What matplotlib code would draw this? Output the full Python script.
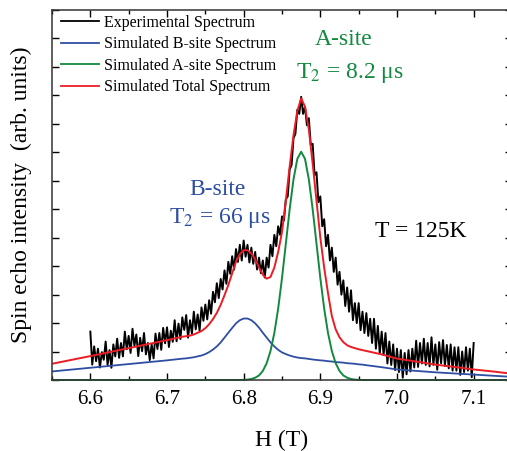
import numpy as np
import matplotlib
matplotlib.use('Agg')
import matplotlib.pyplot as plt
from matplotlib.ticker import MultipleLocator, NullFormatter

plt.rcParams['font.family'] = ['Liberation Serif', 'DejaVu Serif']
plt.rcParams['mathtext.fontset'] = 'stix'

# experimental trace, H from 6.60 to 7.10 T in 0.0025 T steps
h_exp = np.linspace(6.60, 7.10, 201)
exp_spec = [1.70, 0.54, 1.18, 0.66, 1.10, 0.44, 0.98, 0.71, 1.35, 0.53,
            1.05, 0.43, 1.25, 0.83, 1.45, 0.78, 1.30, 0.83, 1.70, 1.08,
            1.55, 0.95, 1.80, 1.20, 1.60, 0.84, 1.48, 1.01, 1.65, 0.90,
            1.30, 0.70, 1.25, 0.76, 1.63, 1.09, 1.65, 1.06, 1.83, 1.29,
            1.85, 1.16, 1.73, 1.34, 2.10, 1.36, 1.98, 1.44, 2.20, 1.76,
            2.28, 1.49, 2.10, 1.63, 2.40, 1.78, 2.30, 1.73, 2.55, 2.08,
            2.65, 2.13, 2.80, 2.33, 3.10, 2.73, 3.40, 2.88, 3.55, 3.18,
            3.85, 3.38, 4.15, 3.73, 4.35, 3.88, 4.60, 4.15, 4.75, 4.20,
            4.90, 4.33, 4.75, 4.13, 4.65, 4.08, 4.50, 3.88, 4.30, 3.75,
            4.20, 3.60, 4.30, 3.95, 4.75, 4.35, 5.10, 4.70, 5.40, 5.10,
            5.75, 5.60, 6.35, 6.45, 7.40, 7.55, 8.50, 8.65, 9.50, 9.35,
            9.95, 9.35, 9.60, 8.95, 9.20, 8.25, 8.30, 7.20, 7.30, 6.25,
            6.45, 5.40, 5.65, 4.70, 5.10, 4.20, 4.65, 3.80, 4.30, 3.35,
            3.80, 3.00, 3.50, 2.60, 3.25, 2.40, 3.15, 2.10, 2.70, 2.00,
            2.70, 1.75, 2.40, 1.65, 2.35, 1.55, 2.15, 1.30, 2.15, 1.10,
            1.90, 0.93, 1.70, 0.88, 1.65, 0.58, 1.35, 0.53, 1.25, 0.35,
            1.10, 0.28, 1.05, 0.08, 0.95, 0.20, 1.05, 0.30, 1.10, 0.44,
            1.38, 0.46, 1.30, 0.58, 1.45, 0.53, 1.30, 0.48, 1.50, 0.53,
            1.25, 0.36, 1.33, 0.59, 1.40, 0.49, 1.23, 0.41, 1.25, 0.33,
            1.15, 0.33, 1.15, 0.18, 1.00, 0.28, 1.15, 0.33, 1.10, 0.10,
            1.30]

# simulated curves share one H grid
h_fit = np.concatenate([[6.55, 6.60, 6.65, 6.70],
                        np.linspace(6.72, 6.96, 49),
                        [6.98, 7.00, 7.025, 7.05, 7.075, 7.10, 7.125, 7.15]])
b_site = [0.30, 0.43, 0.56, 0.69,
          0.75, 0.76, 0.78, 0.80, 0.83, 0.86, 0.91, 0.98, 1.07, 1.18,
          1.32, 1.49, 1.66, 1.83, 1.99, 2.10, 2.16, 2.16, 2.10, 1.99,
          1.84, 1.66, 1.49, 1.32, 1.18, 1.06, 0.97, 0.91, 0.86, 0.82,
          0.79, 0.77, 0.76, 0.74, 0.72, 0.705, 0.69, 0.68, 0.66, 0.65,
          0.63, 0.62, 0.61, 0.59, 0.58, 0.57, 0.55, 0.54, 0.52,
          0.45, 0.37, 0.32, 0.27, 0.23, 0.19, 0.15, 0.11]
a_site = [0, 0, 0, 0,
          0, 0, 0, 0, 0, 0, 0, 0, 0, 0,
          0, 0, 0, 0, 0, 0, 0.006, 0.015, 0.035, 0.08,
          0.16, 0.32, 0.59, 1.02, 1.65, 2.51, 3.58, 4.79, 6.00, 7.05,
          7.77, 8.02, 7.77, 7.05, 6.00, 4.79, 3.58, 2.51, 1.65, 1.02,
          0.59, 0.32, 0.16, 0.08, 0.035, 0.015, 0.006, 0, 0,
          0, 0, 0, 0, 0, 0, 0, 0]
total = [0.57, 0.84, 1.12, 1.40,
         1.52, 1.54, 1.56, 1.60, 1.66, 1.72, 1.82, 1.96, 2.14, 2.36,
         2.64, 2.98, 3.34, 3.75, 4.15, 4.42, 4.56, 4.56, 4.45, 4.24,
         3.96, 3.70, 3.56, 3.62, 3.95, 4.50, 5.20, 6.30, 7.50, 8.60,
         9.45, 9.90, 9.60, 8.80, 7.60, 6.30, 5.00, 3.95, 3.05, 2.25,
         1.78, 1.50, 1.33, 1.22, 1.16, 1.12, 1.08, 1.05, 1.02,
         0.90, 0.75, 0.65, 0.54, 0.46, 0.37, 0.30, 0.22]

blue = '#2e4ea3'
green = '#13893f'
red = '#ec1c24'

fig = plt.figure(figsize=(5.07, 4.51), dpi=100)
ax = fig.add_axes([52/507, 71/451, 460/507, 370/451])

ax.plot(h_exp, exp_spec, color='black', lw=1.4, label='Experimental Spectrum')
ax.plot(h_fit, b_site, color=blue, lw=1.3, label='Simulated B-site Spectrum')
ax.plot(h_fit, a_site, color=green, lw=1.4, label='Simulated A-site Spectrum', clip_on=False)
ax.plot(h_fit, total, color=red, lw=1.4, label='Simulated Total Spectrum')

ax.set_xlim(6.55, 7.15)
ax.set_ylim(0, 13)
ax.xaxis.set_major_locator(MultipleLocator(0.1))
ax.xaxis.set_minor_locator(MultipleLocator(0.05))
ax.yaxis.set_major_locator(MultipleLocator(1))
ax.yaxis.set_major_formatter(NullFormatter())
ax.tick_params(axis='both', which='both', direction='in', top=True, right=True, width=1.0)
ax.tick_params(axis='x', which='major', length=5, labelsize=15, pad=7)
ax.tick_params(axis='x', which='minor', length=3)
ax.tick_params(axis='y', which='major', length=5)
ax.xaxis.set_major_formatter(matplotlib.ticker.FormatStrFormatter('%.1f'))
for s in ax.spines.values():
    s.set_linewidth(1.1)
    s.set_color('#333333')

ax.set_xlabel('H (T)', fontsize=17, labelpad=15)
ax.set_ylabel('Spin echo intensity  (arb. units)', fontsize=17, labelpad=11)

leg = ax.legend(loc='upper left', frameon=False, fontsize=11.5, handlelength=2.4,
                handletextpad=0.3, labelspacing=0.34, borderaxespad=0.0,
                bbox_to_anchor=(0.006, 1.004))
for line in leg.get_lines():
    line.set_linewidth(1.3)

ax.text(6.93, 11.95, 'A-site', color=green, fontsize=17, ha='center', va='center')
ax.text(6.938, 10.8, 'T$_2$ = 8.2 \u03bcs', color=green, fontsize=17, ha='center', va='center')
ax.text(6.766, 6.68, 'B-site', color=blue, fontsize=17, ha='center', va='center')
ax.text(6.7695, 5.68, 'T$_2$ = 66 \u03bcs', color=blue, fontsize=17, ha='center', va='center')
ax.text(7.0316, 5.2, 'T = 125K', color='black', fontsize=17, ha='center', va='center')

fig.savefig('out.png', dpi=100)
